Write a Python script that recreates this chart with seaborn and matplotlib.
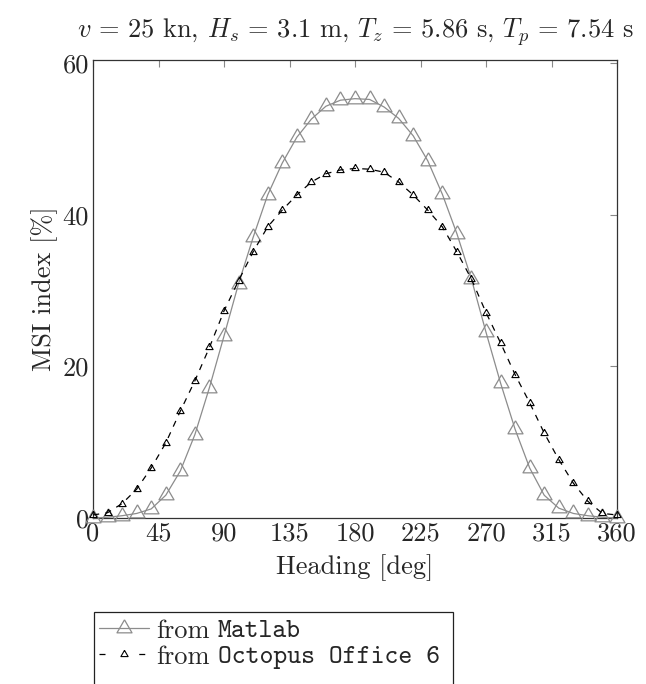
import matplotlib
matplotlib.use("Agg")
import matplotlib.pyplot as plt
import seaborn as sns
import pandas as pd
from matplotlib.patches import Rectangle
from matplotlib.lines import Line2D

heading = [0, 10, 20, 30, 40, 50, 60, 70, 80, 90, 100, 110, 120, 130, 140, 150, 160, 170, 180,
           190, 200, 210, 220, 230, 240, 250, 260, 270, 280, 290, 300, 310, 320, 330, 340, 350, 360]
msi_matlab = [0.0, 0.1, 0.3, 0.6, 1.2, 3.0, 6.2, 11.0, 17.2, 24.0, 30.9, 37.0, 42.6, 46.8, 50.2, 52.6, 54.3, 55.1, 55.3,
              55.2, 54.2, 52.7, 50.4, 47.1, 42.7, 37.5, 31.5, 24.5, 17.8, 11.7, 6.6, 3.0, 1.3, 0.6, 0.3, 0.1, 0.0]
msi_octopus = [0.4, 0.7, 1.9, 3.8, 6.6, 9.9, 14.1, 18.1, 22.5, 27.3, 31.3, 35.1, 38.4, 40.6, 42.6, 44.3, 45.4, 45.9, 46.1,
               46.0, 45.6, 44.3, 42.6, 40.6, 38.4, 35.1, 31.5, 27.1, 23.1, 18.9, 15.2, 11.2, 7.7, 4.6, 2.2, 0.6, 0.4]
x_ticks = [0, 45, 90, 135, 180, 225, 270, 315, 360]
y_ticks = [0, 20, 40, 60]
label_prefix = "from"
label_names = ["Matlab", "Octopus Office 6"]

sns.set_style("white")
plt.rcParams["font.family"] = ["cmr10", "DejaVu Serif"]
plt.rcParams["mathtext.fontset"] = "cm"
plt.rcParams["axes.formatter.use_mathtext"] = True

FS = 19
W, H = 646, 684
fig = plt.figure(figsize=(W / 100, H / 100), dpi=100)
ax = fig.add_axes([93 / W, 1 - 518 / H, (617 - 93) / W, (518 - 60) / H])

tri = [(0, 1), (-0.866, -0.5), (0.866, -0.5), (0, 1)]
df = pd.DataFrame({"heading": heading, "matlab": msi_matlab, "octopus": msi_octopus})

sns.lineplot(data=df, x="heading", y="matlab", ax=ax, color="#8c8c8c", lw=0.9,
             marker=tri, markersize=12.5, markerfacecolor="none", markeredgecolor="#8c8c8c",
             markeredgewidth=0.9, clip_on=False, zorder=3)
sns.lineplot(data=df, x="heading", y="octopus", ax=ax, color="black", lw=0.9,
             linestyle=(0, (5, 5)), marker=tri, markersize=6, markerfacecolor="none",
             markeredgecolor="black", markeredgewidth=0.8, clip_on=False, zorder=4)

ax.set_xlim(0, 360)
ax.set_ylim(0, 60.4)
ax.set_xticks(x_ticks)
ax.set_xticklabels([str(v) for v in x_ticks])
ax.set_yticks(y_ticks)
ax.set_yticklabels([str(v) for v in y_ticks])
ax.tick_params(direction="in", length=5, width=0.8, color="#888888",
               top=True, right=True, labelsize=FS, pad=3)
for s in ax.spines.values():
    s.set_color("#333333")
    s.set_linewidth(0.9)
ax.set_xlabel("Heading [deg]", fontsize=FS, labelpad=6)
ax.set_ylabel("MSI index [%]", fontsize=FS, labelpad=3)
ax.set_title(r"$v\,=\,25$ kn, $H_s\,=\,3.1$ m, $T_z\,=\,5.86$ s, $T_p\,=\,7.54$ s",
             fontsize=FS, pad=16, x=0.5)

lines = ax.get_lines()
oct_handle = Line2D([], [], color="black", lw=0.9, linestyle=(0, (4.8, 27)),
                    marker=tri, markersize=6, markerfacecolor="none",
                    markeredgecolor="black", markeredgewidth=0.8)
leg = fig.legend(handles=[lines[0], oct_handle], labels=[label_prefix, label_prefix],
                 loc="upper left", bbox_to_anchor=(99 / W, 1 - 619 / H), frameon=False,
                 fontsize=FS, handlelength=1.9, handletextpad=0.25, labelspacing=0.08,
                 borderpad=0, borderaxespad=0)
fig.add_artist(Rectangle((94 / W, 1 - 700 / H), (453 - 94) / W, (700 - 612) / H,
                         transform=fig.transFigure, fill=False, ec="#222222", lw=0.9))

fig.canvas.draw()
renderer = fig.canvas.get_renderer()
space_px = 0.333 * FS * 100 / 72
for t, name in zip(leg.get_texts(), label_names):
    bb = t.get_window_extent(renderer)
    fig.text((bb.x1 + space_px) / W, bb.y0 / H, name, family="cmtt10",
             fontsize=FS, ha="left", va="bottom")

fig.savefig("out.png", dpi=100)
